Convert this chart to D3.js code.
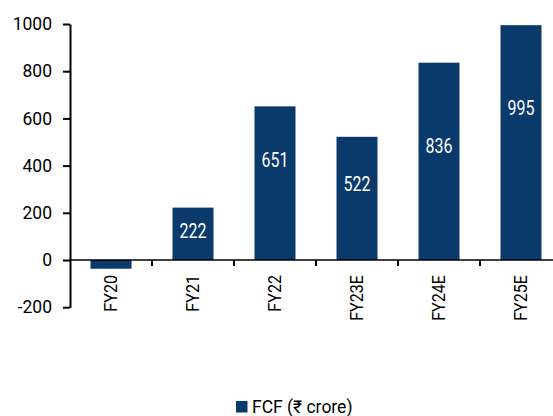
<!DOCTYPE html>
<html>
<head>
<meta charset="utf-8">
<script src="https://cdn.jsdelivr.net/npm/d3@7"></script>
<style>
  html, body { margin: 0; padding: 0; background: #fff; }
  svg text { font-family: Roboto, "Liberation Sans", sans-serif; }
</style>
</head>
<body>
<svg id="chart" width="553" height="416"></svg>
<script>
// FCF by fiscal year (₹ crore)
const years = ["FY20", "FY21", "FY22", "FY23E", "FY24E", "FY25E"];
const fcf = [-37, 222, 651, 522, 836, 995];
// value-axis point at which each bar's label sits
const labelAt = [null, 125, 425, 324, 484, 645];
const yTicks = [-200, 0, 200, 400, 600, 800, 1000];
const legendLabel = "FCF (₹ crore)";

const barColor = "#0a3a6b";
const svg = d3.select("#chart");

const x = d3.scaleBand().domain(years).range([70, 562]).paddingInner(0.5).paddingOuter(0.25);
const y = d3.scaleLinear().domain([-200, 1000]).range([307.2, 24]);
const rows = years.map((c, i) => ({ c, v: fcf[i], l: labelAt[i] }));

// bars
svg.append("g").selectAll("rect")
  .data(rows)
  .join("rect")
  .attr("x", d => x(d.c))
  .attr("width", x.bandwidth())
  .attr("y", d => y(Math.max(0, d.v)))
  .attr("height", d => Math.abs(y(d.v) - y(0)))
  .attr("fill", barColor);

// value labels inside the bars
svg.append("g").selectAll("text")
  .data(rows.filter(d => d.l !== null))
  .join("text")
  .attr("transform", d => `translate(${x(d.c) + x.bandwidth() / 2},${y(d.l)}) scale(0.78,1)`)
  .attr("dy", "0.36em")
  .attr("text-anchor", "middle")
  .attr("fill", "#fff")
  .attr("font-size", 20.5)
  .text(d => d.v);

// y axis
const yAxis = svg.append("g")
  .attr("transform", "translate(70,0)")
  .call(d3.axisLeft(y).tickValues(yTicks).tickFormat(d => String(d))
    .tickSize(7).tickSizeOuter(0).tickPadding(11));
yAxis.selectAll("text").attr("font-size", 17.5).attr("fill", "#000").attr("font-family", null);
yAxis.selectAll("line, path").attr("stroke", "#000").attr("stroke-width", 2);

// x axis on the zero line, ticks between categories
const xAxis = svg.append("g").attr("transform", `translate(0,${y(0)})`);
xAxis.append("line")
  .attr("x1", 70).attr("x2", 553)
  .attr("stroke", "#000").attr("stroke-width", 1.6);
const step = x.step();
xAxis.selectAll("line.tick")
  .data(years.slice(1))
  .join("line")
  .attr("class", "tick")
  .attr("x1", d => x(d) - step * 0.25).attr("x2", d => x(d) - step * 0.25)
  .attr("y1", 0).attr("y2", 6)
  .attr("stroke", "#000").attr("stroke-width", 2);
xAxis.selectAll("text")
  .data(years)
  .join("text")
  .attr("transform", d => `translate(${x(d) + x.bandwidth() / 2},15) rotate(-90) scale(0.92,1)`)
  .attr("text-anchor", "end")
  .attr("dy", "0.36em")
  .attr("font-size", 17.5)
  .attr("fill", "#000")
  .text(d => d);

// legend
const legend = svg.append("g").attr("transform", "translate(236,401)");
legend.append("rect").attr("width", 11.5).attr("height", 11.5).attr("fill", barColor);
legend.append("text").attr("x", 16).attr("y", 11.5).attr("font-size", 17.5).attr("fill", "#000").text(legendLabel);
</script>
</body>
</html>
